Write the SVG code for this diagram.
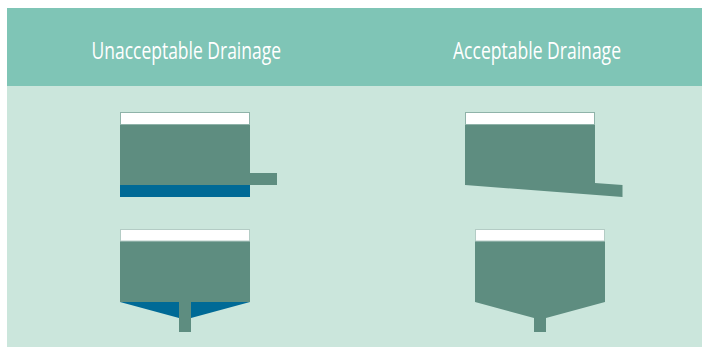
<svg xmlns="http://www.w3.org/2000/svg" width="702" height="347" viewBox="0 0 702 347">
<style>
.t{font-family:"Open Sans","Noto Sans",sans-serif;font-size:24.5px;fill:#fff}
.b{fill:#5e8d80}
.w{fill:#006a96}
.r{fill:#fff;stroke:#8fb3a9;stroke-width:1}
.l{fill:#fff;stroke:#b4ccc5;stroke-width:1}
</style>
<rect width="702" height="347" fill="#fff"/>
<rect x="7" y="8" width="695" height="339" fill="#cbe6dc"/>
<rect x="7" y="8" width="695" height="78" fill="#7fc5b6"/>
<text class="t" x="91.500" y="59" textLength="189.500" lengthAdjust="spacingAndGlyphs">Unacceptable Drainage</text>
<text class="t" x="453" y="59" textLength="168" lengthAdjust="spacingAndGlyphs">Acceptable Drainage</text>
<g id="unacceptable-top">
<rect class="w" x="120" y="185" width="130" height="12"/>
<path class="b" d="M120 112H250V173H277V185H120Z"/>
<rect class="r" x="120.500" y="112.500" width="129" height="12"/>
</g>
<g id="acceptable-top">
<path class="b" d="M465 112H595V183L622.500 185V197L465 185Z"/>
<rect class="r" x="465.500" y="112.500" width="129" height="12"/>
</g>
<g id="unacceptable-bottom">
<path class="w" d="M120 302H250L191 318H179Z"/>
<path class="b" d="M120 229H250V302H191V332H179V302H120Z"/>
<rect class="l" x="120.500" y="229.500" width="129" height="11.500"/>
</g>
<g id="acceptable-bottom">
<path class="b" d="M475 229H605V302L546 318V332H534V318L475 302Z"/>
<rect class="l" x="475.500" y="229.500" width="129" height="11.500"/>
</g>
</svg>
